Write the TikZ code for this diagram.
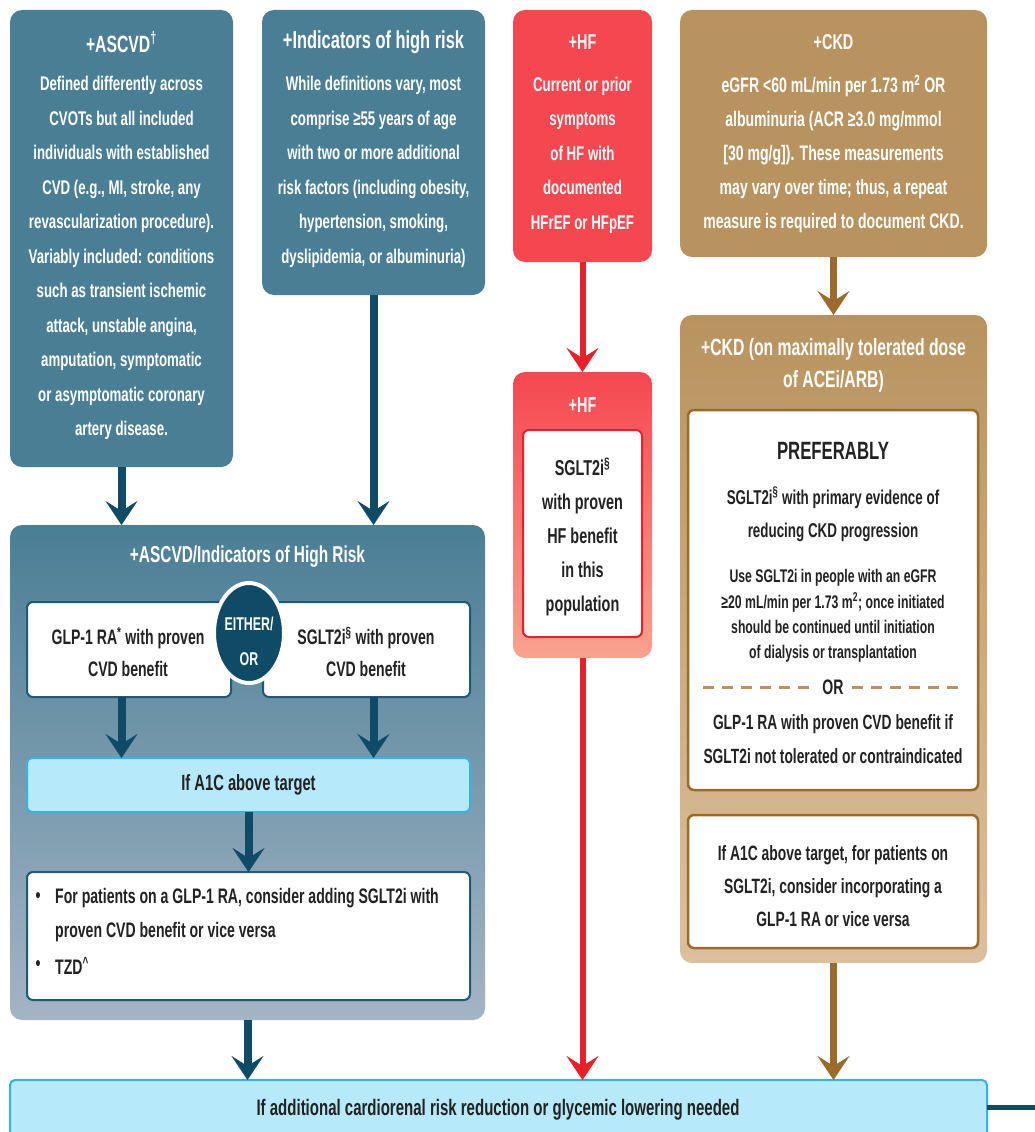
\documentclass[tikz,border=0pt]{standalone}
\usepackage{fontspec}
\setmainfont{Liberation Sans}[FakeStretch=0.67]
\usetikzlibrary{arrows.meta,calc,shapes.geometric}
\definecolor{cTeal}{HTML}{4A7E95}
\definecolor{cTealLow}{HTML}{A4B4C4}
\definecolor{cNavy}{HTML}{0F4A66}
\definecolor{cBoxLine}{HTML}{1E5A75}
\definecolor{cRed}{HTML}{F5474F}
\definecolor{cRedLow}{HTML}{F9A28F}
\definecolor{cRedArrow}{HTML}{E8202A}
\definecolor{cTan}{HTML}{B8935F}
\definecolor{cTanLow}{HTML}{DCC09D}
\definecolor{cBrown}{HTML}{9B6B2B}
\definecolor{cSky}{HTML}{B6E9F9}
\definecolor{cSkyLine}{HTML}{35B3E9}
\definecolor{cInk}{HTML}{222222}
\tikzset{
  panel/.style={rounded corners=12pt, inner sep=0pt, outer sep=0pt, anchor=north west},
  wbox/.style={fill=white, rounded corners=6pt, inner sep=0pt, outer sep=0pt, anchor=north west, line width=2pt},
  skybox/.style={fill=cSky, draw=cSkyLine, rounded corners=5pt, inner sep=0pt, outer sep=0pt, anchor=north west, line width=2pt},
  tw/.style={text=white, align=center, inner sep=0pt, font=\bfseries\fontsize{19.8}{34.5}\selectfont},
  twt/.style={text=white, align=center, inner sep=0pt, font=\bfseries\fontsize{23.5}{32}\selectfont},
  tk/.style={text=cInk, align=center, inner sep=0pt, font=\bfseries\fontsize{21}{34}\selectfont},
  tks/.style={text=cInk, align=center, inner sep=0pt, font=\bfseries\fontsize{18.3}{25.3}\selectfont},
  arrtip/.style={-{Stealth[length=24pt,width=32pt,inset=10pt]}},
  arrN/.style={arrtip, draw=cNavy, line width=8pt},
  arrR/.style={arrtip, draw=cRedArrow, line width=6pt},
  arrB/.style={arrtip, draw=cBrown, line width=7pt},
}
\begin{document}
\begin{tikzpicture}[x=1pt,y=-1pt]
\useasboundingbox (0,0) rectangle (1035,1132);

% ---------- top row panels ----------
\node[panel, fill=cTeal, minimum width=223pt, minimum height=457pt] (ascvd) at (10,10) {};
\node[panel, fill=cTeal, minimum width=223pt, minimum height=285pt] (ind) at (262,10) {};
\node[panel, fill=cRed, minimum width=139pt, minimum height=252pt] (hf) at (513,10) {};
\node[panel, fill=cTan, minimum width=307pt, minimum height=247pt] (ckd) at (680,10) {};

\node[twt] (ascvdT) at (121.5,42) {+ASCVD\textsuperscript{†}};
\node[tw] (ascvdB) at (121.5,258) {Defined differently across\\CVOTs but all included\\individuals with established\\CVD (e.g., MI, stroke, any\\revascularization procedure).\\Variably included: conditions\\such as transient ischemic\\attack, unstable angina,\\amputation, symptomatic\\or asymptomatic coronary\\artery disease.};

\node[twt, font=\bfseries\fontsize{24.5}{32}\selectfont] (indT) at (373.5,42) {+Indicators of high risk};
\node[tw] (indB) at (373.5,172) {While definitions vary, most\\comprise ≥55 years of age\\with two or more additional\\risk factors (including obesity,\\hypertension, smoking,\\dyslipidemia, or albuminuria)};

\node[twt, font=\bfseries\fontsize{21.5}{32}\selectfont] (hfT) at (582.5,42) {+HF};
\node[tw] (hfB) at (582.5,155) {Current or prior\\symptoms\\of HF with\\documented\\HFrEF or HFpEF};

\node[twt, font=\bfseries\fontsize{21.5}{32}\selectfont] (ckdT) at (833.5,42) {+CKD};
\node[tw, font=\bfseries\fontsize{21}{34}\selectfont] (ckdB) at (833.5,154) {eGFR <60 mL/min per 1.73 m\textsuperscript{2} OR\\albuminuria (ACR ≥3.0 mg/mmol\\{[30 mg/g]}). These measurements\\may vary over time; thus, a repeat\\measure is required to document CKD.};

% ---------- second row ----------
\node[panel, top color=cTeal, bottom color=cTealLow, minimum width=475pt, minimum height=495pt] (big) at (10,525) {};
\node[twt, font=\bfseries\fontsize{23}{32}\selectfont] (bigT) at (247.5,557) {+ASCVD/Indicators of High Risk};

\node[wbox, draw=cBoxLine, minimum width=204pt, minimum height=95pt] (glp) at (27,602) {};
\node[wbox, draw=cBoxLine, minimum width=207pt, minimum height=95pt] (sglt) at (263,602) {};
\node[tk, font=\bfseries\fontsize{21}{32}\selectfont] (glpT) at (128,652) {GLP-1 RA\textsuperscript{*} with proven\\CVD benefit};
\node[tk, font=\bfseries\fontsize{21}{32}\selectfont] (sgltT) at (366,652) {SGLT2i\textsuperscript{§} with proven\\CVD benefit};
\node[ellipse, fill=cNavy, draw=white, line width=4pt, minimum width=70pt, minimum height=100pt, inner sep=0pt] (either) at (249,633) {};
\node[text=white, align=center, inner sep=0pt, font=\bfseries\fontsize{18.5}{35}\selectfont] (eitherT) at (249,641) {EITHER/\\OR};

\node[skybox, minimum width=443pt, minimum height=54pt] (a1c) at (27,758) {};
\node[tk, font=\bfseries\fontsize{22}{34}\selectfont] (a1cT) at (a1c.center) {If A1C above target};

\node[wbox, draw=cBoxLine, minimum width=443pt, minimum height=128pt] (bul) at (27,872) {};
\node[tk] (b1) at (38,898) {•};
\node[tk, align=left, anchor=west] (b1T) at (55,915) {For patients on a GLP-1 RA, consider adding SGLT2i with\\proven CVD benefit or vice versa};
\node[tk] (b2) at (38,966) {•};
\node[tk, anchor=west] (b2T) at (55,966) {TZD\textsuperscript{\textasciicircum}};

% HF second
\node[panel, top color=cRed, bottom color=cRedLow, minimum width=139pt, minimum height=286pt] (hf2) at (513,372) {};
\node[twt, font=\bfseries\fontsize{21.5}{32}\selectfont] (hf2T) at (582.5,405) {+HF};
\node[wbox, draw=cRedArrow, minimum width=119pt, minimum height=207pt] (hfin) at (523,430) {};
\node[tk, font=\bfseries\fontsize{21.5}{34}\selectfont] (hfinT) at (582.5,537) {SGLT2i\textsuperscript{§}\\with proven\\HF benefit\\in this\\population};

% CKD second
\node[panel, top color=cTan, bottom color=cTanLow, minimum width=307pt, minimum height=648pt] (ckd2) at (680,315) {};
\node[twt] (ckd2T) at (833.5,365) {+CKD (on maximally tolerated dose\\of ACEi/ARB)};
\node[wbox, draw=cBrown, line width=2.5pt, minimum width=290pt, minimum height=380pt] (pref) at (688,410) {};
\node[tk, font=\bfseries\fontsize{25}{26}\selectfont] (prefT) at (833,451) {PREFERABLY};
\node[tk, font=\bfseries\fontsize{20}{33}\selectfont] (prefA) at (833,514) {SGLT2i\textsuperscript{§} with primary evidence of\\reducing CKD progression};
\node[tks] (prefB) at (833,616) {Use SGLT2i in people with an eGFR\\≥20 mL/min per 1.73 m\textsuperscript{2}; once initiated\\should be continued until initiation\\of dialysis or transplantation};
\node[tk] (orT) at (833,687) {OR};
\coordinate (dl1) at (703,687);
\coordinate (dl2) at (815,687);
\coordinate (dr1) at (852,687);
\coordinate (dr2) at (964,687);
\draw[cTan, line width=3pt, dash pattern=on 11pt off 8pt] (dl1) -- (dl2);
\draw[cTan, line width=3pt, dash pattern=on 11pt off 8pt] (dr1) -- (dr2);
\node[tk, font=\bfseries\fontsize{20.6}{34}\selectfont] (prefC) at (833,739) {GLP-1 RA with proven CVD benefit if\\SGLT2i not tolerated or contraindicated};
\node[wbox, draw=cBrown, line width=2.5pt, minimum width=290pt, minimum height=133pt] (ckdA1c) at (688,815) {};
\node[tk, font=\bfseries\fontsize{20.7}{33}\selectfont] (ckdA1cT) at (833,886) {If A1C above target, for patients on\\SGLT2i, consider incorporating a\\GLP-1 RA or vice versa};

% ---------- bottom bar ----------
\node[skybox, minimum width=977pt, minimum height=62pt] (bottom) at (10,1080) {};
\node[tk, font=\bfseries\fontsize{22.4}{34}\selectfont] (bottomT) at (498,1110) {If additional cardiorenal risk reduction or glycemic lowering needed};
\coordinate (exitR) at (1035,1107);

% ---------- connectors ----------
\draw[arrN] (ascvd.south) -- (ascvd.south |- big.north);
\draw[arrN] (ind.south) -- (ind.south |- big.north);
\draw[arrR] (hf.south) -- (hf2.north);
\draw[arrB] (ckd.south) -- (ckd2.north);
\draw[arrN] (glp.south -| ascvd.south) -- (ascvd.south |- a1c.north);
\draw[arrN] (sglt.south -| ind.south) -- (ind.south |- a1c.north);
\draw[arrN] (a1c.south) -- (bul.north);
\draw[arrN] (big.south) -- (big.south |- bottom.north);
\draw[arrR] (hf2.south) -- (hf2.south |- bottom.north);
\draw[arrB] (ckd2.south) -- (ckd2.south |- bottom.north);
\draw[cNavy, line width=5pt] (bottom.east |- exitR) -- (exitR);
\end{tikzpicture}
\end{document}
